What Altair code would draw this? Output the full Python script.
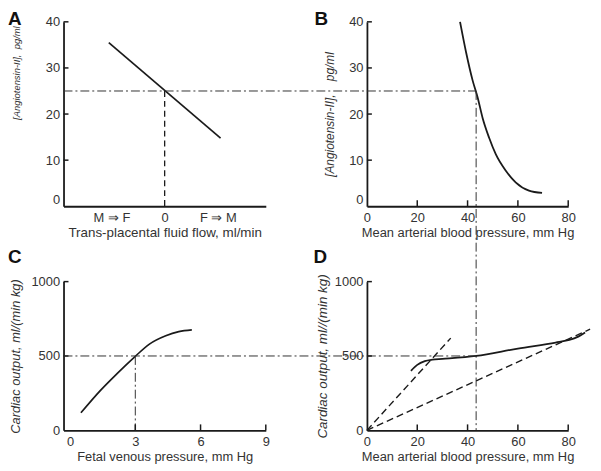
import altair as alt
import pandas as pd

# ---------------- data ----------------
# Panel A
a_flow = [-1.05, 1.05]
a_ang = [35.5, 14.8]
a_xticks = [-1, 0, 1]
a_xlabels = ["M ⇒ F", "0", "F ⇒ M"]
a_yticks = [0, 10, 20, 30, 40]
a_op_flow, a_op_ang = 0, 25

# Panel B
b_map = [37.0, 39.4, 42.0, 44.0, 46.0, 48.6, 51.2, 55.2, 59.1, 64.4, 69.6]
b_ang = [40.0, 33.4, 27.3, 23.6, 19.1, 14.8, 11.3, 7.7, 5.2, 3.4, 2.9]
b_xticks = [0, 20, 40, 60, 80]
b_yticks = [0, 10, 20, 30, 40]
op_map = 43.4
op_ang = 25

# Panel C
c_fvp = [0.5, 1.4, 2.15, 3.0, 3.65, 4.4, 5.0, 5.6]
c_co = [118, 269, 380, 498, 580, 636, 664, 676]
c_xticks = [0, 3, 6, 9]
c_yticks = [0, 500, 1000]
c_op_fvp, op_co = 3, 500

# Panel D
d_map = [17.5, 20, 23, 26, 30, 43.4, 60, 75, 80, 84, 86.7]
d_co = [400, 440, 465, 475, 480, 500, 550, 590, 606, 630, 658]
d_steep_map = [0, 33.3]
d_steep_co = [0, 620]
d_shallow_map = [0, 88.7]
d_shallow_co = [0, 680]
d_xticks = [0, 20, 40, 60, 80]
d_yticks = [0, 500, 1000]

panel_letters = ["A", "B", "C", "D"]

# ---------------- layout ----------------
LW, RW = 204, 203      # column plot widths
TH, BH = 186, 150      # row plot heights
COLSP, ROWSP = 102, 76

FONT = "Liberation Sans"
INK = "#1a1a1a"
TXT = "#333333"
DASHDOT = [9, 3, 2, 3]


def xaxis(values, title, tsize=13, label_expr=None):
    kw = dict(values=values, title=title, ticks=False, grid=False,
              domainColor=INK, domainWidth=1.8, labelColor=TXT,
              labelFont=FONT, labelFontSize=13, labelPadding=5,
              labelFlush=False, labelOverlap=False, format="d",
              titleFont=FONT, titleFontSize=tsize, titleFontWeight="normal",
              titleColor=TXT, titlePadding=2)
    if label_expr:
        kw["labelExpr"] = label_expr
    return alt.Axis(**kw)


def yaxis(values, title, tsize, tpad, anchor=None, ty=None, raise0=False):
    kw = dict(values=values, title=title, ticks=False, grid=False,
              domainColor=INK, domainWidth=1.8, labelColor=TXT,
              labelFont=FONT, labelFontSize=13, labelPadding=4,
              labelFlush=False, labelOverlap=False, format="d",
              titleFont=FONT, titleFontSize=tsize, titleFontWeight="normal",
              titleFontStyle="italic", titleColor=TXT, titlePadding=tpad)
    if anchor:
        kw["titleAnchor"] = anchor
    if ty is not None:
        kw["titleY"] = ty
    if raise0:
        kw["labelOffset"] = {"condition": {"test": "datum.value === 0", "value": -7},
                             "value": 0}
    return alt.Axis(**kw)


def letter(i, dx, dy):
    return alt.Chart(pd.DataFrame({"t": [panel_letters[i]]})).mark_text(
        font=FONT, fontSize=19, fontWeight="bold", color="#111",
        align="left", baseline="alphabetic"
    ).encode(text="t:N", x=alt.value(dx), y=alt.value(dy))


def yticks_rule(vals, field, scale, axis):
    df = pd.DataFrame({field: vals})
    return alt.Chart(df).mark_rule(color=INK, strokeWidth=1.5).encode(
        y=alt.Y(f"{field}:Q", scale=scale, axis=axis),
        x=alt.value(0), x2=alt.value(5))


def xticks_rule(vals, field, scale, axis, h):
    df = pd.DataFrame({field: vals})
    return alt.Chart(df).mark_rule(color=INK, strokeWidth=1.5).encode(
        x=alt.X(f"{field}:Q", scale=scale, axis=axis),
        y=alt.value(h), y2=alt.value(h - 6))


# ---------------- Panel A ----------------
ax_s = alt.Scale(domain=[-1.9, 1.9], nice=False, zero=False)
ay_s = alt.Scale(domain=[0, 40], nice=False, zero=False)
lab_map = "{" + ",".join(f"'{v}':'{l}'" for v, l in zip(a_xticks, a_xlabels)) + "}"
a_expr = f"{lab_map}[''+datum.value]"
ax_ax = xaxis(a_xticks, "Trans-placental fluid flow, ml/min", 13.5, a_expr)
ay_ax = yaxis(a_yticks, "[Angiotensin-II],\u00a0\u00a0pg/ml", 9.5, 24, "end", 4, True)

a_line = alt.Chart(pd.DataFrame({"flow": a_flow, "ang": a_ang})).mark_line(
    color=INK, strokeWidth=1.7).encode(
    x=alt.X("flow:Q", scale=ax_s, axis=ax_ax),
    y=alt.Y("ang:Q", scale=ay_s, axis=ay_ax))
a_vdash = alt.Chart(pd.DataFrame({"flow": [a_op_flow], "ang": [a_op_ang], "z": [0]})).mark_rule(
    color=INK, strokeWidth=1.3, strokeDash=[6, 4]).encode(
    x=alt.X("flow:Q", scale=ax_s, axis=ax_ax),
    y=alt.Y("ang:Q", scale=ay_s, axis=ay_ax), y2="z:Q")
panelA = alt.layer(a_line, a_vdash, yticks_rule(a_yticks[1:], "ang", ay_s, ay_ax),
                   letter(0, -56, 3)).properties(width=LW, height=TH)

# ---------------- Panel B ----------------
bx_s = alt.Scale(domain=[0, 80], nice=False, zero=False)
by_s = alt.Scale(domain=[0, 40], nice=False, zero=False)
bx_ax = xaxis(b_xticks, "Mean arterial blood pressure, mm Hg")
by_ax = yaxis(b_yticks, "[Angiotensin-II],\u00a0\u00a0\u00a0\u00a0pg/ml", 12, 12, raise0=True)
b_hleft = 0 - (LW + COLSP) / (RW / 80)
b_vbottom = 0 - (ROWSP + BH) / (TH / 40)

b_line = alt.Chart(pd.DataFrame({"map": b_map, "ang": b_ang})).mark_line(
    color=INK, strokeWidth=1.8, interpolate="monotone").encode(
    x=alt.X("map:Q", scale=bx_s, axis=bx_ax),
    y=alt.Y("ang:Q", scale=by_s, axis=by_ax))
b_h = alt.Chart(pd.DataFrame({"map": [b_hleft], "x2": [op_map], "ang": [op_ang]})).mark_rule(
    color=TXT, strokeWidth=1, strokeDash=DASHDOT).encode(
    x=alt.X("map:Q", scale=bx_s, axis=bx_ax), x2="x2:Q",
    y=alt.Y("ang:Q", scale=by_s, axis=by_ax))
b_v = alt.Chart(pd.DataFrame({"map": [op_map], "ang": [op_ang], "y2": [b_vbottom]})).mark_rule(
    color=TXT, strokeWidth=1, strokeDash=DASHDOT).encode(
    x=alt.X("map:Q", scale=bx_s, axis=bx_ax),
    y=alt.Y("ang:Q", scale=by_s, axis=by_ax), y2="y2:Q")
panelB = alt.layer(b_line, b_h, b_v,
                   yticks_rule(b_yticks[1:], "ang", by_s, by_ax),
                   xticks_rule(b_xticks[1:], "map", bx_s, bx_ax, TH),
                   letter(1, -53, 3)).properties(width=RW, height=TH)

# ---------------- Panel C ----------------
cx_s = alt.Scale(domain=[-0.3, 9], nice=False, zero=False)
cy_s = alt.Scale(domain=[0, 1000], nice=False, zero=False)
cx_ax = xaxis(c_xticks, "Fetal venous pressure, mm Hg")
cy_ax = yaxis(c_yticks, "Cardiac output, ml/(min kg)", 13, 8)
c_line = alt.Chart(pd.DataFrame({"fvp": c_fvp, "co": c_co})).mark_line(
    color=INK, strokeWidth=1.7, interpolate="monotone").encode(
    x=alt.X("fvp:Q", scale=cx_s, axis=cx_ax),
    y=alt.Y("co:Q", scale=cy_s, axis=cy_ax))
c_v = alt.Chart(pd.DataFrame({"fvp": [c_op_fvp], "co": [op_co], "y2": [0]})).mark_rule(
    color=TXT, strokeWidth=1, strokeDash=DASHDOT).encode(
    x=alt.X("fvp:Q", scale=cx_s, axis=cx_ax),
    y=alt.Y("co:Q", scale=cy_s, axis=cy_ax), y2="y2:Q")
panelC = alt.layer(c_line, c_v,
                   yticks_rule(c_yticks[1:], "co", cy_s, cy_ax),
                   xticks_rule(c_xticks[1:], "fvp", cx_s, cx_ax, BH),
                   letter(2, -56, -19)).properties(width=LW, height=BH)

# ---------------- Panel D ----------------
dx_s = alt.Scale(domain=[0, 80], nice=False, zero=False)
dy_s = alt.Scale(domain=[0, 1000], nice=False, zero=False)
dx_ax = xaxis(d_xticks, "Mean arterial blood pressure, mm Hg")
dy_ax = yaxis(d_yticks, "Cardiac output, ml//(min kg)", 13.5, 5)
d_hleft = 0 - (LW + COLSP) / (RW / 80)

d_line = alt.Chart(pd.DataFrame({"map": d_map, "co": d_co})).mark_line(
    color=INK, strokeWidth=1.8, interpolate="monotone").encode(
    x=alt.X("map:Q", scale=dx_s, axis=dx_ax),
    y=alt.Y("co:Q", scale=dy_s, axis=dy_ax))
dash_df = pd.DataFrame({
    "map": d_steep_map + d_shallow_map,
    "co": d_steep_co + d_shallow_co,
    "s": ["steep"] * 2 + ["shallow"] * 2,
})
d_dash = alt.Chart(dash_df).mark_line(
    color=INK, strokeWidth=1.4, strokeDash=[7, 4]).encode(
    x=alt.X("map:Q", scale=dx_s, axis=dx_ax),
    y=alt.Y("co:Q", scale=dy_s, axis=dy_ax), detail="s:N")
d_h = alt.Chart(pd.DataFrame({"map": [d_hleft], "x2": [op_map], "co": [op_co]})).mark_rule(
    color=TXT, strokeWidth=1, strokeDash=DASHDOT).encode(
    x=alt.X("map:Q", scale=dx_s, axis=dx_ax), x2="x2:Q",
    y=alt.Y("co:Q", scale=dy_s, axis=dy_ax))
panelD = alt.layer(d_line, d_dash, d_h,
                   yticks_rule(d_yticks[1:], "co", dy_s, dy_ax),
                   xticks_rule(d_xticks[1:], "map", dx_s, dx_ax, BH),
                   letter(3, -54, -19)).properties(width=RW, height=BH)

chart = alt.concat(panelA, panelB, panelC, panelD, columns=2,
                   spacing={"row": ROWSP, "column": COLSP},
                   bounds="flush").properties(padding=0).configure_view(strokeWidth=0)

chart.save("out.html", embed_options={"renderer": "svg", "actions": False})
